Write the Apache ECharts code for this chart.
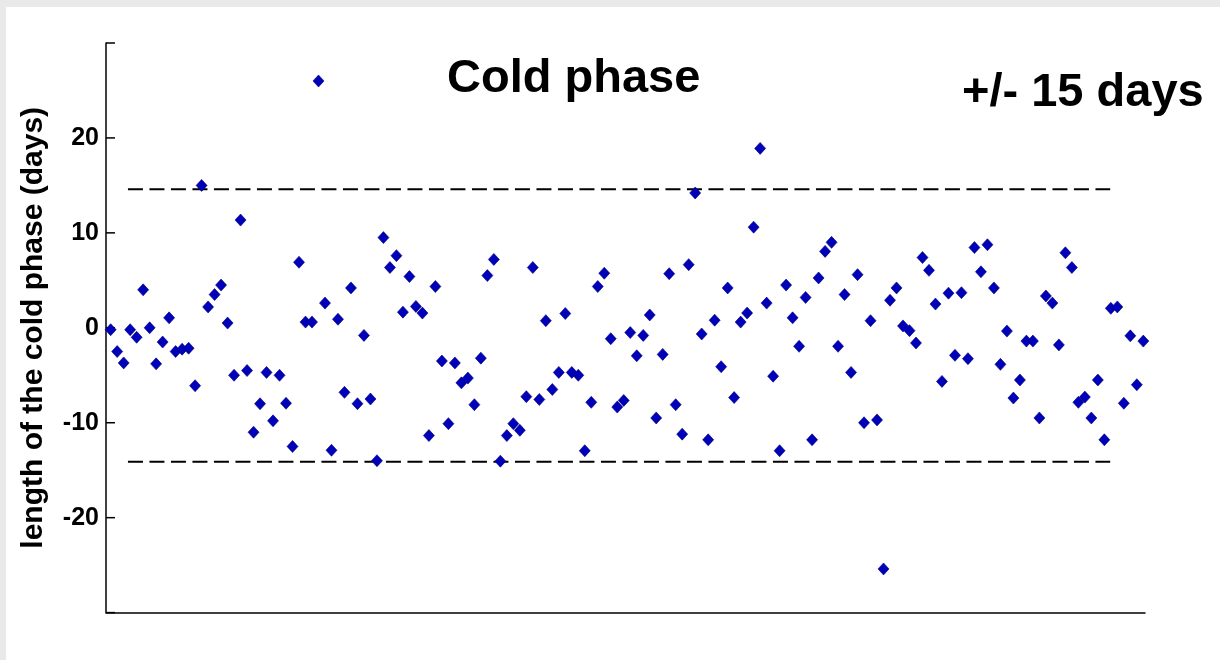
<!DOCTYPE html>
<html>
<head>
<meta charset="utf-8">
<title>Cold phase</title>
<script src="https://cdn.jsdelivr.net/npm/echarts@6/dist/echarts.min.js"></script>
<style>
  html, body { margin: 0; padding: 0; background: #e9e9e9; width: 1220px; height: 660px; overflow: hidden; }
  #chart { position: absolute; left: 6px; top: 7px; width: 1214px; height: 653px; background: #ffffff; }
</style>
</head>
<body>
<div id="chart"></div>
<script>
// Length of the cold phase, deviation in days, one value per season (in order)
const coldPhaseLength = [
  -0.2, -2.5, -3.7, -0.2, -1.0, 4.0, 0.0, -3.8, -1.5, 1.05,
  -2.5, -2.25, -2.15, -6.1, 15.0, 2.2, 3.5, 4.5, 0.5, -5.0,
  11.35, -4.5, -11.0, -8.0, -4.7, -9.8, -5.0, -7.95, -12.5, 6.9,
  0.6, 0.6, 26.0, 2.6, -12.9, 0.9, -6.8, 4.2, -8.0, -0.8,
  -7.5, -14.0, 9.5, 6.35, 7.6, 1.65, 5.4, 2.25, 1.55, -11.35,
  4.35, -3.5, -10.1, -3.7, -5.8, -5.3, -8.1, -3.2, 5.5, 7.2,
  -14.05, -11.35, -10.1, -10.8, -7.25, 6.35, -7.55, 0.75, -6.5, -4.7,
  1.5, -4.7, -5.0, -12.95, -7.85, 4.35, 5.75, -1.15, -8.35, -7.65,
  -0.5, -2.95, -0.8, 1.35, -9.5, -2.8, 5.7, -8.1, -11.2, 6.65,
  14.2, -0.65, -11.8, 0.8, -4.1, 4.2, -7.35, 0.6, 1.55, 10.6,
  18.9, 2.6, -5.1, -12.95, 4.5, 1.05, -1.95, 3.2, -11.8, 5.25,
  8.05, 9.0, -1.95, 3.5, -4.7, 5.6, -10.0, 0.75, -9.7, -25.4,
  2.9, 4.2, 0.2, -0.3, -1.6, 7.4, 6.05, 2.5, -5.65, 3.65,
  -2.9, 3.7, -3.25, 8.45, 5.9, 8.75, 4.2, -3.85, -0.35, -7.4,
  -5.5, -1.4, -1.4, -9.5, 3.35, 2.6, -1.8, 7.9, 6.35, -7.85,
  -7.3, -9.5, -5.5, -11.8, 2.05, 2.2, -7.95, -0.85, -6.0, -1.4
];

// Threshold band drawn as dashed lines, and the season range it spans
const thresholdLevels = [14.6, -14.1];
const thresholdSpan = [3.66, 154.9];

// Y axis range, step and tick positions
const yRange = [-30, 30];
const yStep = 10;
const yTicks = [-30, -20, -10, 0, 10, 20, 30];

// X axis range (season index)
const xRange = [0.28, 160.26];

// Text
const titleText = 'Cold phase';
const bandText = '+/- 15 days';
const yAxisName = 'length of the cold phase (days)';

const FONT = '"Liberation Sans", Arial, Helvetica, sans-serif';

const points = coldPhaseLength.map((v, i) => [i + 1, v]);

const thresholdSeries = thresholdLevels.map((lvl, k) => ({
  type: 'line',
  name: 'threshold' + k,
  data: thresholdSpan.map(x => [x, lvl]),
  symbol: 'none',
  silent: true,
  lineStyle: { color: '#000000', width: 2, type: [15, 6.5] },
  z: 1
}));

// Inward tick marks on the left axis, placed through the axis scale
const tickSeries = {
  type: 'custom',
  name: 'yticks',
  silent: true,
  clip: false,
  data: yTicks.map(v => [xRange[0], v]),
  renderItem: function (params, api) {
    const p = api.coord([api.value(0), api.value(1)]);
    return {
      type: 'line',
      shape: { x1: p[0], y1: p[1], x2: p[0] + 9, y2: p[1] },
      style: { stroke: '#000000', lineWidth: 1.5 }
    };
  },
  z: 2
};

const chart = echarts.init(document.getElementById('chart'), null, { renderer: 'canvas' });

chart.setOption({
  backgroundColor: '#ffffff',
  animation: false,
  grid: { left: 100, right: 75, top: 36, bottom: 47.4, containLabel: false },
  xAxis: {
    type: 'value',
    min: xRange[0],
    max: xRange[1],
    axisLine: { show: true, onZero: false, lineStyle: { color: '#000000', width: 1.5 } },
    axisTick: { show: false },
    axisLabel: { show: false },
    splitLine: { show: false }
  },
  yAxis: {
    type: 'value',
    min: yRange[0],
    max: yRange[1],
    interval: yStep,
    name: yAxisName,
    nameLocation: 'middle',
    nameGap: 57,
    nameTextStyle: { color: '#000000', fontFamily: FONT, fontWeight: 'bold', fontSize: 30 },
    axisLine: { show: true, onZero: false, lineStyle: { color: '#000000', width: 1.5 } },
    axisTick: { show: false },
    axisLabel: {
      show: true,
      showMinLabel: false,
      showMaxLabel: false,
      margin: 7,
      color: '#000000',
      fontFamily: FONT,
      fontWeight: 'bold',
      fontSize: 25
    },
    splitLine: { show: false }
  },
  series: [
    ...thresholdSeries,
    tickSeries,
    {
      type: 'scatter',
      name: 'cold phase',
      data: points,
      symbol: 'diamond',
      symbolSize: [11, 12],
      itemStyle: { color: '#0000bb', borderColor: '#00006e', borderWidth: 0.6, opacity: 1 },
      z: 3
    }
  ],
  graphic: [
    {
      type: 'text',
      left: 441,
      top: 49,
      style: { text: titleText, fill: '#000000', font: 'bold 47px ' + FONT }
    },
    {
      type: 'text',
      left: 956,
      top: 63,
      style: { text: bandText, fill: '#000000', font: 'bold 47px ' + FONT }
    }
  ]
});
</script>
</body>
</html>
